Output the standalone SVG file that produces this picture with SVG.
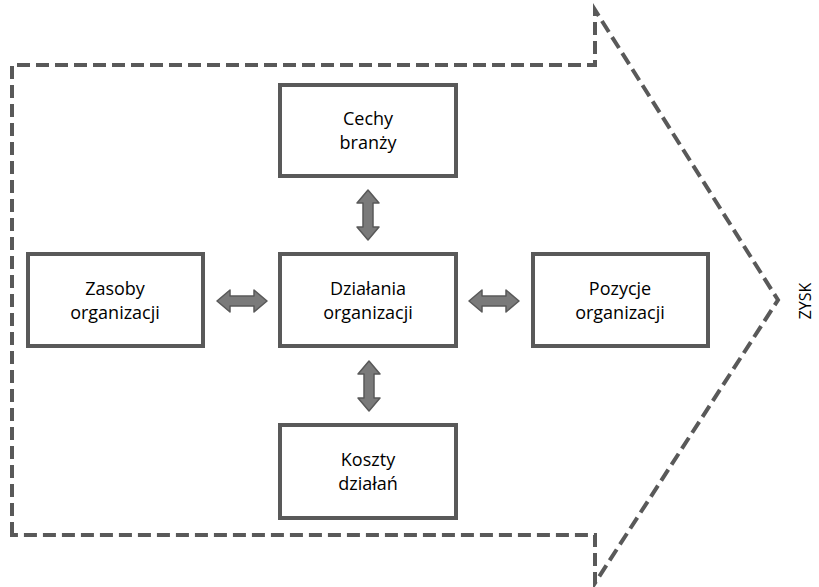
<svg xmlns="http://www.w3.org/2000/svg" width="819" height="587" viewBox="0 0 819 587">
<defs>
<style>
.box{fill:#ffffff;stroke:#595959;stroke-width:4;}
.lbl{font-family:"Open Sans","Liberation Sans",sans-serif;font-size:18px;fill:#000000;text-anchor:middle;}
.zysk{font-family:"Open Sans","Liberation Sans",sans-serif;font-size:16px;fill:#000000;text-anchor:middle;}
.outline{fill:none;stroke:#595959;stroke-width:4;stroke-dasharray:13 6;stroke-linejoin:miter;}
.dbl{fill:#7a7a7a;stroke:#595959;stroke-width:1.5;stroke-linejoin:round;}
</style>
<path id="harrow" d="M -25 0 L -12 -11 L -12 -5 L 12 -5 L 12 -11 L 25 0 L 12 11 L 12 5 L -12 5 L -12 11 Z"/>
</defs>
<rect width="819" height="587" fill="#ffffff"/>
<g id="outline">
<path class="outline" d="M 12 535 L 12 65 L 595 65 L 595 10 L 778 300 L 595 583 L 595 535 Z"/>
<text class="zysk" transform="translate(811,301) rotate(-90)">ZYSK</text>
</g>
<g id="connectors">
<use href="#harrow" class="dbl" transform="translate(242,301)"/>
<use href="#harrow" class="dbl" transform="translate(494,301)"/>
<use href="#harrow" class="dbl" transform="translate(368,215) rotate(90)"/>
<use href="#harrow" class="dbl" transform="translate(369,386) rotate(90)"/>
</g>
<g id="cechy">
<rect class="box" x="280" y="85" width="176" height="91"/>
<text class="lbl" x="368" y="125">Cechy</text>
<text class="lbl" x="368" y="149">branży</text>
</g>
<g id="zasoby">
<rect class="box" x="28" y="254" width="175" height="92"/>
<text class="lbl" x="115" y="295">Zasoby</text>
<text class="lbl" x="115" y="319">organizacji</text>
</g>
<g id="dzialania">
<rect class="box" x="280" y="254" width="176" height="92"/>
<text class="lbl" x="368" y="295">Działania</text>
<text class="lbl" x="368" y="319">organizacji</text>
</g>
<g id="pozycje">
<rect class="box" x="533" y="254" width="175" height="92"/>
<text class="lbl" x="620" y="295">Pozycje</text>
<text class="lbl" x="620" y="319">organizacji</text>
</g>
<g id="koszty">
<rect class="box" x="280" y="425" width="176" height="93"/>
<text class="lbl" x="368" y="466">Koszty</text>
<text class="lbl" x="368" y="490">działań</text>
</g>
</svg>
